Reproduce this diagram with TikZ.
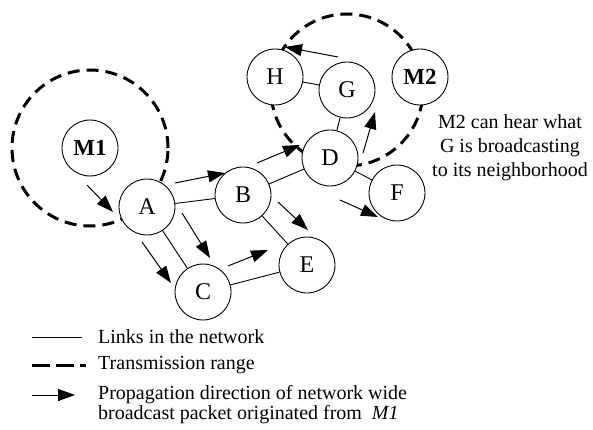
\documentclass[tikz,border=0pt]{standalone}
\usepackage{fontspec}
\setmainfont{Liberation Serif}
\usetikzlibrary{arrows.meta}

\tikzset{
  station/.style={draw,circle,fill=white,minimum size=56pt,inner sep=0pt,
    line width=0.9pt,font=\fontsize{24}{28}\selectfont},
  link/.style={line width=0.9pt},
  txrange/.style={line width=3pt,dash pattern=on 12pt off 7pt},
  prop/.style={line width=1pt,-{Triangle[length=17pt,width=12pt]}},
  legtext/.style={anchor=west,inner sep=0pt,font=\fontsize{20}{20}\selectfont},
}

\begin{document}
\begin{tikzpicture}[x=1pt,y=-1pt]
  \useasboundingbox (0,0) rectangle (593,430);

  % transmission ranges of M1 and G
  \draw[txrange] (90,148) circle (78pt);
  \draw[txrange] (347,90) circle (76pt);

  % stations
  \node[station,font=\fontsize{23}{28}\selectfont\bfseries] (M1) at (90,148) {M1};
  \node[station,font=\fontsize{23}{28}\selectfont\bfseries] (M2) at (420,77) {M2};
  \node[station] (A) at (147,207) {A};
  \node[station] (B) at (243,195) {B};
  \node[station] (C) at (203,292) {C};
  \node[station] (D) at (330,158) {D};
  \node[station] (E) at (307,265) {E};
  \node[station] (F) at (397,193) {F};
  \node[station] (G) at (347,90) {G};
  \node[station] (H) at (275,77) {H};

  % links
  \draw[link] (A) -- (B);
  \draw[link] (A) -- (C);
  \draw[link] (B) -- (E);
  \draw[link] (C) -- (E);
  \draw[link] (B) -- (D);
  \draw[link] (D) -- (F);
  \draw[link] (D) -- (G);
  \draw[link] (G) -- (H);

  % propagation of the broadcast
  \draw[prop] ([shift={(-3,37)}]M1.center) -- ([shift={(-34,5)}]A.center);
  \draw[prop] ([shift={(28,-24)}]A.center) -- ([shift={(-18,-22)}]B.center);
  \draw[prop] ([shift={(35,6)}]A.center) -- ([shift={(7,-34)}]C.center);
  \draw[prop] ([shift={(-5,35)}]A.center) -- ([shift={(-32,-9)}]C.center);
  \draw[prop] ([shift={(25,-26)}]C.center) -- ([shift={(-39,-15)}]E.center);
  \draw[prop] ([shift={(35,7)}]B.center) -- ([shift={(1,-35)}]E.center);
  \draw[prop] ([shift={(14,-32)}]B.center) -- ([shift={(-30,-13)}]D.center);
  \draw[prop] ([shift={(33,-5)}]D.center) -- ([shift={(28,22)}]G.center);
  \draw[prop] ([shift={(-9,-33)}]G.center) -- ([shift={(10,-30)}]H.center);
  \draw[prop] ([shift={(10,42)}]D.center) -- ([shift={(-19,24)}]F.center);

  \node[align=center,inner sep=0pt,font=\fontsize{20}{24}\selectfont] (hear) at (510,148)
    {M2 can hear what\\G is broadcasting\\to its neighborhood};

  % legend
  \node[legtext] (lnk) at (98,337) {Links in the network};
  \node[legtext] (rng) at (98,365) {Transmission range};
  \node[legtext,align=left] (prp) at (98,405)
    {Propagation direction of network wide\\broadcast packet originated from \ \textit{M1}};
  \draw[link] ([shift={(-66,0)}]lnk.west) -- ([shift={(-16,0)}]lnk.west);
  \draw[txrange,dash pattern=on 18pt off 6pt] ([shift={(-66,0)}]rng.west) -- ([shift={(-12,0)}]rng.west);
  \draw[prop] ([shift={(-66,-10)}]prp.west) -- ([shift={(-23,-10)}]prp.west);
\end{tikzpicture}
\end{document}
